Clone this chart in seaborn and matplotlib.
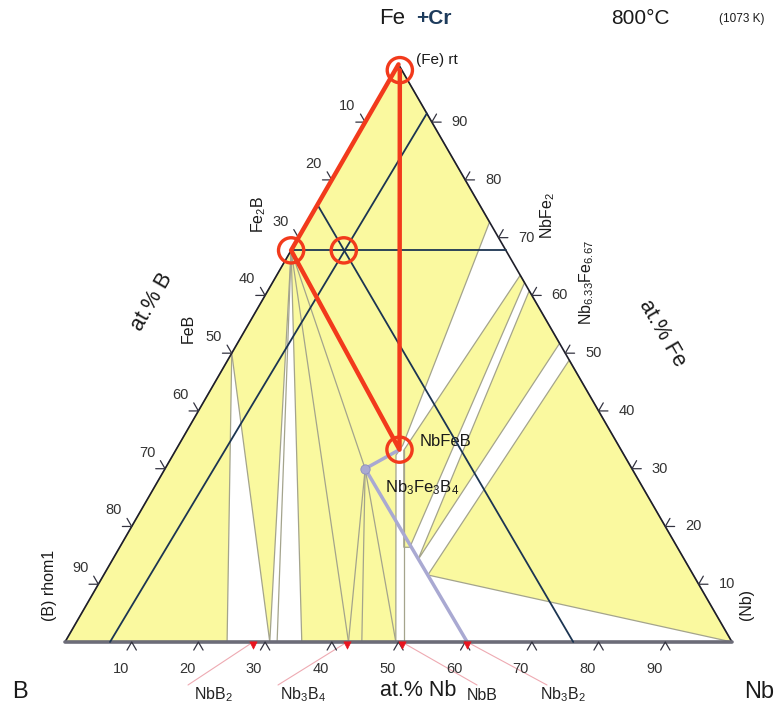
import numpy as np
import matplotlib
matplotlib.use("Agg")
import matplotlib.pyplot as plt
from matplotlib.patches import Polygon
import seaborn as sns

# compositions are (x_Nb, x_Fe); x_B = 1 - x_Nb - x_Fe
fe_corner = (0.0, 1.0)
b_corner = (0.0, 0.0)
nb_corner = (1.0, 0.0)
fe2b = (0.0, 0.678)
feb = (0.0, 0.5)
nbfeb = (0.335, 0.333)
nb3fe3b4 = (0.30, 0.30)
cross_point = (0.079, 0.678)

# red circles of the original sketch
circled = [(0.007, 0.99), fe2b, cross_point, nbfeb]

# borides marked on the B-Nb side
boride_labels = ["NbB$_2$", "Nb$_3$B$_4$", "NbB", "Nb$_3$B$_2$"]
boride_nb = [0.282, 0.423, 0.505, 0.603]

# three-phase fields (yellow)
yellow_fields = [
    [b_corner, feb, (0.243, 0.0)],
    [feb, fe2b, (0.307, 0.0)],
    [fe_corner, (0.273, 0.727), (0.336, 0.341), (0.3345, 0.3235),
     (0.496, 0.0), (0.355, 0.0), fe2b],
    [(0.342, 0.332), (0.365, 0.635), (0.378, 0.622), (0.435, 0.164), (0.426, 0.164)],
    [(0.392, 0.608), (0.483, 0.517), (0.458, 0.142)],
    [(0.512, 0.488), nb_corner, (0.486, 0.116)],
]

# extra tie lines inside the fields
tie_lines = [
    [fe2b, (0.425, 0.0)],
    [fe2b, nb3fe3b4],
    [fe2b, (0.318, 0.0)],
    [nb3fe3b4, (0.425, 0.0)],
    [nb3fe3b4, (0.445, 0.0)],
    [nb3fe3b4, (0.496, 0.0)],
    [(0.342, 0.332), (0.426, 0.164)],
    [(0.426, 0.164), (0.508, 0.0)],
]

# single-phase boundaries (lavender)
phase_lines = [
    [nb3fe3b4, nbfeb],
    [nb3fe3b4, (0.603, 0.0)],
]

# constant-composition guide lines (navy)
guide_lines = [
    [(0.0, 0.678), (0.322, 0.678)],
    [(0.0675, 0.0), (0.085, 0.915)],
    [(0.0, 0.757), (0.762, 0.0)],
]

# red path (Fe) - Fe2B - NbFeB - (Fe)
red_path = [fe_corner, fe2b, nbfeb, (0.007, 0.99)]

ticks = [10, 20, 30, 40, 50, 60, 70, 80, 90]

H = np.sqrt(3) / 2


def tern(nb, fe):
    return nb + fe / 2, fe * H


def pix(px, py):
    # image pixel -> axes data position
    return (px - 65) / 667, (642 - py) / 667


sns.set_theme(style="white")
plt.rcParams["font.family"] = ["Liberation Sans", "DejaVu Sans"]
plt.rcParams["mathtext.default"] = "regular"

fig = plt.figure(figsize=(7.81, 7.06), dpi=100)
ax = fig.add_axes([0, 0, 1, 1])
ax.set_xlim(-65 / 667, 716 / 667)
ax.set_ylim(-64 / 667, 642 / 667)
ax.axis("off")

yellow = "#faf99f"
gray = "#a4a48c"
navy = "#1c3552"
red = "#f23a1c"
lav = "#a9a9d2"

for field in yellow_fields:
    pts = [tern(*c) for c in field]
    ax.add_patch(Polygon(pts, closed=True, facecolor=yellow, edgecolor=gray,
                         lw=0.9, zorder=1))

for seg in tie_lines:
    xs, ys = zip(*[tern(*c) for c in seg])
    ax.plot(xs, ys, color=gray, lw=0.9, zorder=2)

for seg in phase_lines:
    xs, ys = zip(*[tern(*c) for c in seg])
    ax.plot(xs, ys, color=lav, lw=2.5, zorder=3, solid_capstyle="round")

# triangle frame
xs, ys = zip(*[tern(*c) for c in [b_corner, fe_corner, nb_corner]])
ax.plot(xs, ys, color="#1e1e2a", lw=1.2, zorder=4)
xs, ys = zip(*[tern(*c) for c in [b_corner, nb_corner]])
ax.plot(xs, ys, color="#6c6c78", lw=2.6, zorder=4)

for seg in guide_lines:
    xs, ys = zip(*[tern(*c) for c in seg])
    ax.plot(xs, ys, color=navy, lw=1.3, zorder=5)

xs, ys = zip(*[tern(*c) for c in red_path])
ax.plot(xs, ys, color=red, lw=3.2, zorder=6, solid_joinstyle="round")
cx, cy = zip(*[tern(*c) for c in circled])
ax.scatter(cx, cy, s=330, facecolors="none", edgecolors=red, linewidths=2.4, zorder=7)

# Nb3Fe3B4 dot
dx, dy = tern(*nb3fe3b4)
sns.scatterplot(x=[dx], y=[dy], s=45, color=lav, edgecolor="#8c8cc0",
                linewidth=0.6, zorder=8, ax=ax, legend=False)

# boride markers with leader lines to their labels
label_px = [(213, 695), (303, 695), (482, 695), (563, 695)]
leader_px = [(188, 685), (278, 685), (477, 685), (547, 685)]
bx = [tern(n, 0)[0] for n in boride_nb]
for x0, lab, (lx, ly), (ex, ey) in zip(bx, boride_labels, label_px, leader_px):
    ex_, ey_ = pix(ex, ey)
    ax.plot([x0, ex_], [0, ey_], color="#eeaab2", lw=0.8, zorder=3)
    tx, ty = pix(lx, ly)
    ax.text(tx, ty, lab, fontsize=11.5, ha="center", va="center", color="#222")
sns.scatterplot(x=bx, y=[-0.004] * len(bx), marker="v", s=28, color="#e8141e",
                edgecolor="#e8141e", zorder=8, ax=ax, legend=False)

# ticks and tick labels
L = 0.014
tick_col = "#333340"
for t in ticks:
    f = t / 100
    # Nb axis (bottom)
    px_, py_ = tern(f, 0)
    ax.plot([px_ - 0.5 * L, px_, px_ + 0.5 * L], [py_ - H * L, py_, py_ - H * L],
            color=tick_col, lw=0.9, zorder=4)
    x_pix = 65 + 667 * px_
    ax.text(*pix(x_pix - 11, 669), str(t), fontsize=10.5, ha="center", va="center", color="#333")
    # B axis (left)
    px_, py_ = tern(0, 1 - f)
    ax.plot([px_ - 0.5 * L, px_, px_ - L], [py_ + H * L, py_, py_],
            color=tick_col, lw=0.9, zorder=4)
    x_pix, y_pix = 65 + 667 * px_, 642 - 667 * py_
    ax.text(*pix(x_pix - 18, y_pix - 16), str(t), fontsize=10.5, ha="center", va="center", color="#333")
    # Fe axis (right)
    px_, py_ = tern(1 - f, f)
    ax.plot([px_ + L, px_, px_ + 0.5 * L], [py_, py_, py_ + H * L],
            color=tick_col, lw=0.9, zorder=4)
    x_pix, y_pix = 65 + 667 * px_, 642 - 667 * py_
    ax.text(*pix(x_pix + 28, y_pix), str(t), fontsize=10.5, ha="center", va="center", color="#333")

# corner, axis and phase labels
txt = dict(ha="center", va="center", color="#1a1a1a")
ax.text(*pix(20, 692), "B", fontsize=17, **txt)
ax.text(*pix(759, 692), "Nb", fontsize=17, **txt)
ax.text(*pix(418, 691), "at.% Nb", fontsize=15.5, **txt)
ax.text(*pix(152, 302), "at.% B", fontsize=15.5, rotation=60, **txt)
ax.text(*pix(662, 333), "at.% Fe", fontsize=15.5, rotation=-60, **txt)
ax.text(*pix(392, 19), "Fe", fontsize=16, **txt)
ax.text(*pix(434, 18), "+Cr", fontsize=15, fontweight="bold", ha="center",
        va="center", color="#1d3b5c")
ax.text(*pix(640, 19), "800°C", fontsize=15, **txt)
ax.text(*pix(742, 19), "(1073 K)", fontsize=8.5, **txt)
ax.text(*pix(416, 60), "(Fe) rt", fontsize=11, ha="left", va="center", color="#1a1a1a")
ax.text(*pix(259, 214), "Fe$_2$B", fontsize=11.5, rotation=90, **txt)
ax.text(*pix(188, 328), "FeB", fontsize=11.5, rotation=90, **txt)
ax.text(*pix(50, 585), "(B) rhom1", fontsize=11.5, rotation=90, **txt)
ax.text(*pix(747, 605), "(Nb)", fontsize=11.5, rotation=90, **txt)
ax.text(*pix(548, 216), "NbFe$_2$", fontsize=11.5, rotation=90, **txt)
ax.text(*pix(587, 283), "Nb$_{6.33}$Fe$_{6.67}$", fontsize=11.5, rotation=90, **txt)
ax.text(*pix(420, 442), "NbFeB", fontsize=12, ha="left", va="center", color="#1a1a1a")
ax.text(*pix(385, 488), "Nb$_3$Fe$_3$B$_4$", fontsize=12, ha="left", va="center", color="#1a1a1a")

fig.savefig("out.png", dpi=100, facecolor="white")
